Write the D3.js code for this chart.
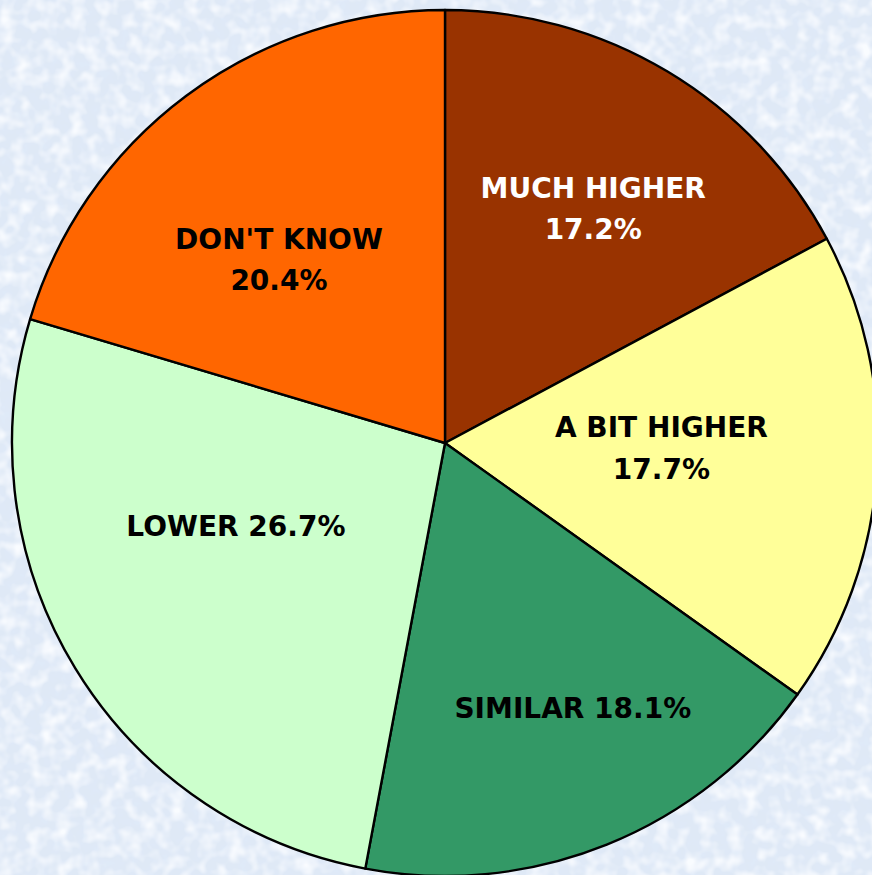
<!DOCTYPE html>
<html>
<head>
<meta charset="utf-8">
<script src="https://cdn.jsdelivr.net/npm/d3@7"></script>
<style>
html,body{margin:0;padding:0;background:#dde9f6;}
svg{display:block;}
</style>
</head>
<body>
<svg id="chart" width="872" height="875"></svg>
<script>
const categories = ["MUCH HIGHER", "A BIT HIGHER", "SIMILAR", "LOWER", "DON'T KNOW"];
const values = [17.2, 17.7, 18.1, 26.7, 20.4];
const colors = ["#993300", "#FFFF99", "#339966", "#CCFFCC", "#FF6600"];
const textColors = ["#ffffff", "#000000", "#000000", "#000000", "#000000"];
const twoLine = [true, true, false, false, true];
// label placement: fraction of radius and angle shift (degrees)
const labelR = [0.64, 0.50, 0.68, 0.52, 0.57];
const labelDA = [1.4, -2.2, -3.8, 9.6, -5.6];

const W = 872, H = 875;
const cx = 445, cy = 443, R = 433;
const svg = d3.select("#chart");

// textured background
const defs = svg.append("defs");
const f = defs.append("filter").attr("id","tex").attr("x",0).attr("y",0).attr("width","100%").attr("height","100%");
f.append("feTurbulence").attr("type","fractalNoise").attr("baseFrequency","0.1").attr("numOctaves",3).attr("seed",5).attr("result","n");
f.append("feColorMatrix").attr("in","n").attr("type","matrix")
  .attr("values","0 0 0 0 0.74  0 0 0 0 0.82  0 0 0 0 0.94  0 0 0 -2.4 1.45");
const f2 = defs.append("filter").attr("id","tex2").attr("x",0).attr("y",0).attr("width","100%").attr("height","100%");
f2.append("feTurbulence").attr("type","fractalNoise").attr("baseFrequency","0.07").attr("numOctaves",2).attr("seed",11).attr("result","n");
f2.append("feColorMatrix").attr("in","n").attr("type","matrix")
  .attr("values","0 0 0 0 0.95  0 0 0 0 0.97  0 0 0 0 1.0  0 0 0 -2.4 1.4");
svg.append("rect").attr("width",W).attr("height",H).attr("fill","#dfe9f6");
svg.append("rect").attr("width",W).attr("height",H).attr("filter","url(#tex)");
svg.append("rect").attr("width",W).attr("height",H).attr("filter","url(#tex2)");

const pie = d3.pie().sort(null).value(d => d);
const arcs = pie(values);
const arc = d3.arc().innerRadius(0).outerRadius(R);

const g = svg.append("g").attr("transform", `translate(${cx},${cy})`);
g.selectAll("path.slice").data(arcs).join("path")
  .attr("class","slice")
  .attr("d", arc)
  .attr("fill", (d,i) => colors[i])
  .attr("stroke", "#000")
  .attr("stroke-width", 2.4)
  .attr("stroke-linejoin","round");

const fmt = v => v.toFixed(1) + "%";
arcs.forEach((d,i) => {
  const mid = (d.startAngle + d.endAngle)/2 + labelDA[i]*Math.PI/180;
  const r = R*labelR[i];
  const x = Math.sin(mid)*r, y = -Math.cos(mid)*r;
  const t = g.append("text")
    .attr("x", x).attr("y", y)
    .attr("text-anchor","middle")
    .attr("fill", textColors[i])
    .style("font-family","'DejaVu Sans', Verdana, sans-serif")
    .style("font-weight","bold")
    .style("font-size","28px");
  if (twoLine[i]) {
    t.append("tspan").attr("x", x).attr("dy", "-0.4em").text(categories[i]);
    t.append("tspan").attr("x", x).attr("dy", "1.47em").text(fmt(values[i]));
  } else {
    t.append("tspan").attr("x", x).attr("dy", "0.35em").text(categories[i] + " " + fmt(values[i]));
  }
});
</script>
</body>
</html>
